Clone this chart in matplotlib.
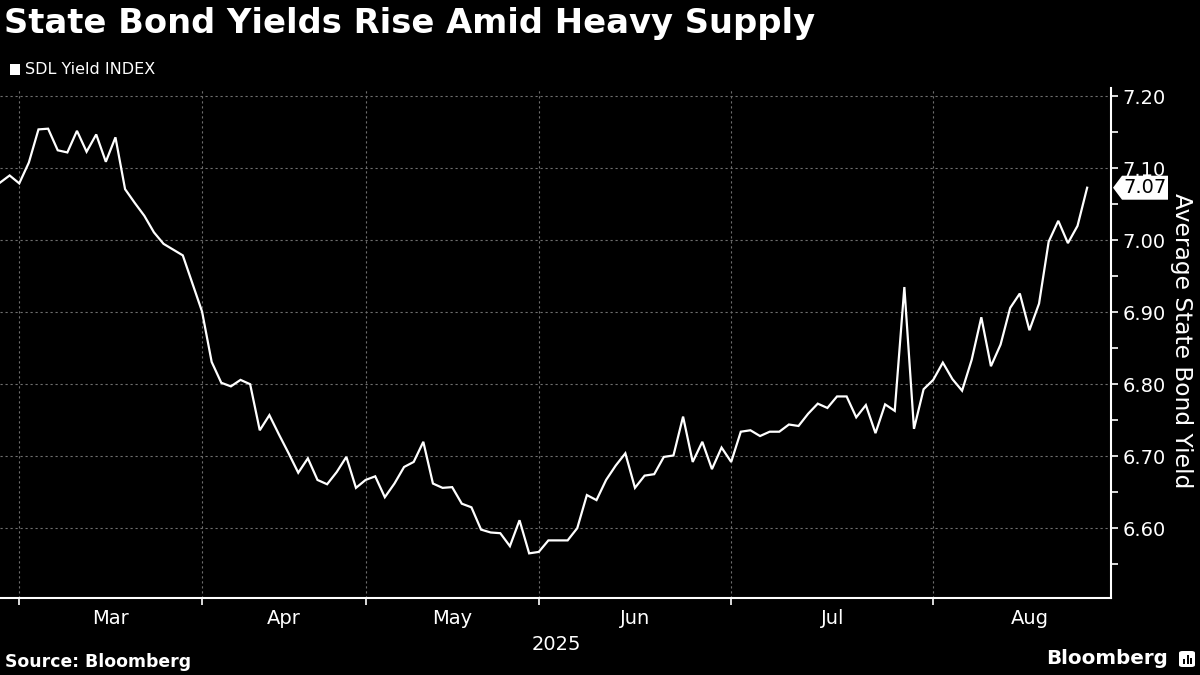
import numpy as np
import matplotlib.pyplot as plt
from matplotlib.patches import FancyBboxPatch, Rectangle, Polygon
from matplotlib.ticker import FixedLocator, NullFormatter, FixedFormatter

# SDL yield index, one value per trading day (Feb 27 .. Aug 25, 2025)
yields = [
    7.080, 7.090, 7.079, 7.108, 7.154, 7.155, 7.125, 7.122, 7.152, 7.123,
    7.147, 7.109, 7.143, 7.071, 7.052, 7.034, 7.011, 6.995, 6.987, 6.979,
    6.940, 6.901, 6.831, 6.802, 6.797, 6.806, 6.800, 6.736, 6.757, 6.730,
    6.704, 6.677, 6.697, 6.667, 6.661, 6.678, 6.699, 6.656, 6.667, 6.672,
    6.643, 6.662, 6.685, 6.692, 6.720, 6.662, 6.656, 6.657, 6.634, 6.629,
    6.598, 6.594, 6.593, 6.575, 6.611, 6.565, 6.567, 6.583, 6.583, 6.583,
    6.600, 6.646, 6.639, 6.667, 6.687, 6.704, 6.656, 6.673, 6.675, 6.699,
    6.701, 6.755, 6.692, 6.720, 6.682, 6.712, 6.692, 6.734, 6.736, 6.728,
    6.734, 6.734, 6.744, 6.742, 6.759, 6.773, 6.767, 6.783, 6.783, 6.754,
    6.771, 6.732, 6.772, 6.763, 6.935, 6.738, 6.793, 6.806, 6.830, 6.807,
    6.791, 6.834, 6.893, 6.825, 6.855, 6.906, 6.926, 6.875, 6.912, 6.998,
    7.027, 6.996, 7.020, 7.073,
]
# index of first trading day of each month (last entry = start of Sep)
month_starts = [2, 21, 38, 56, 76, 97, 117]
month_names = ['Mar', 'Apr', 'May', 'Jun', 'Jul', 'Aug']
y_major = [6.60, 6.70, 6.80, 6.90, 7.00, 7.10, 7.20]
y_minor = [6.55, 6.65, 6.75, 6.85, 6.95, 7.05, 7.15]

x = np.arange(len(yields))

plt.rcParams['font.family'] = ['DejaVu Sans']
fig = plt.figure(figsize=(12, 6.75), dpi=100, facecolor='black')
ax = fig.add_axes([0.0, 0.1141, 0.926, 0.7555], facecolor='black')

ax.plot(x, yields, color='white', lw=1.6, solid_joinstyle='miter', zorder=3)

ax.set_xlim(0, 115.5)
ax.set_ylim(6.503, 7.2115)

# grid
for m in month_starts[:-1]:
    ax.axvline(m, color='#6e6e6e', lw=0.8, ls=(0, (2, 2.5)), zorder=1)
for v in y_major:
    ax.axhline(v, color='#6e6e6e', lw=0.8, ls=(0, (2, 2.5)), zorder=1)

# spines
for s in ['left', 'top']:
    ax.spines[s].set_visible(False)
for s in ['bottom', 'right']:
    ax.spines[s].set_color('white')
    ax.spines[s].set_linewidth(1.5)

# x axis: ticks at month starts, labels centred in each month
mids = [(a + b) / 2 for a, b in zip(month_starts[:-1], month_starts[1:])]
ax.xaxis.set_major_locator(FixedLocator(month_starts[:-1]))
ax.xaxis.set_major_formatter(NullFormatter())
ax.xaxis.set_minor_locator(FixedLocator(mids))
ax.xaxis.set_minor_formatter(FixedFormatter(month_names))
ax.tick_params(axis='x', which='major', colors='white', length=5, width=1.2, direction='out')
ax.tick_params(axis='x', which='minor', colors='white', length=0, pad=8, labelsize=14)

# y axis on the right
ax.yaxis.tick_right()
ax.yaxis.set_major_locator(FixedLocator(y_major))
ax.yaxis.set_minor_locator(FixedLocator(y_minor))
ax.set_yticklabels([f'{v:.2f}' for v in y_major])
ax.tick_params(axis='y', which='both', colors='white', length=5, width=1.2,
               direction='out', labelsize=14, pad=3)
ax.tick_params(axis='y', which='minor', labelright=False)

# last value tag: pointed white label sitting on the right spine
last = yields[-1]
tag_y = 1 - (1 - ax.transData.transform((0, last))[1] / fig.bbox.height)
tip_x = 1113 / 1200
tag = Polygon([(tip_x, tag_y), (1122 / 1200, tag_y + 12 / 675),
               (1168 / 1200, tag_y + 12 / 675), (1168 / 1200, tag_y - 12 / 675),
               (1122 / 1200, tag_y - 12 / 675)],
              closed=True, transform=fig.transFigure, fc='white', ec='none', zorder=5)
fig.patches.append(tag)
fig.text(1145 / 1200, tag_y, f'{last:.2f}', ha='center', va='center',
         fontsize=14, color='black', zorder=6)

fig.text(1182 / 1200, 1 - 341 / 675, 'Average State Bond Yield', rotation=270,
         ha='center', va='center', color='white', fontsize=16.8)

fig.text(556 / 1200, 1 - 645 / 675, '2025', ha='center', va='center',
         color='white', fontsize=14)

# title and legend
fig.text(4 / 1200, 1 - 24 / 675, 'State Bond Yields Rise Amid Heavy Supply',
         ha='left', va='center', color='white', fontsize=24.3, fontweight='bold')
fig.patches.append(Rectangle((10 / 1200, 1 - 75 / 675), 10 / 1200, 11 / 675,
                             transform=fig.transFigure, fc='white', ec='none'))
fig.text(25 / 1200, 1 - 70 / 675, 'SDL Yield INDEX', ha='left', va='center',
         color='white', fontsize=11.5)

# footer
fig.text(5 / 1200, 1 - 662 / 675, 'Source: Bloomberg', ha='left', va='center',
         color='white', fontsize=12.4, fontweight='bold')
fig.text(1168 / 1200, 1 - 659 / 675, 'Bloomberg', ha='right', va='center',
         color='white', fontsize=14.3, fontweight='bold')
fig.patches.append(FancyBboxPatch((1179 / 1200, 1 - 667 / 675), 16 / 1200, 16 / 675,
                                  boxstyle='round,pad=0,rounding_size=0.003',
                                  transform=fig.transFigure, fc='white', ec='none'))
for bx, bh in zip([1183, 1186.5, 1190], [5, 9, 6]):
    fig.patches.append(Rectangle((bx / 1200, 1 - 664 / 675), 2 / 1200, bh / 675,
                                 transform=fig.transFigure, fc='black', ec='none'))

fig.savefig('out.png', dpi=100, facecolor='black')
